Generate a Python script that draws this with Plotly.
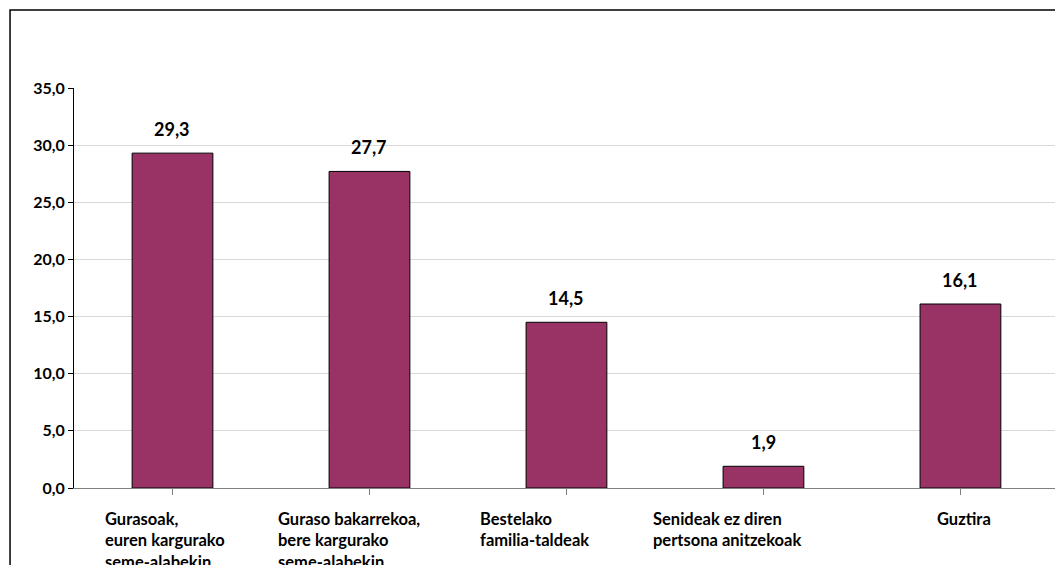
import plotly.graph_objects as go

categories = [
    "Gurasoak,<br>euren kargurako<br>seme-alabekin",
    "Guraso bakarrekoa,<br>bere kargurako<br>seme-alabekin",
    "Bestelako<br>familia-taldeak",
    "Senideak ez diren<br>pertsona anitzekoak",
    "Guztira",
]
values = [29.3, 27.7, 14.5, 1.9, 16.1]
label_shift = [-69, -93, -88, -112, -25]
ytick_vals = [0, 5, 10, 15, 20, 25, 30, 35]

FONT = "Lato"
x_idx = list(range(len(values)))

fig = go.Figure()
fig.add_trace(go.Bar(
    x=x_idx, y=values, width=0.41,
    marker=dict(color="#993366", line=dict(color="#000000", width=1)),
    hoverinfo="skip",
))

annotations = []
for i, v in enumerate(values):
    annotations.append(dict(
        x=i, y=v, xref="x", yref="y",
        text=f"{v:.1f}".replace(".", ","), showarrow=False,
        xanchor="center", yanchor="bottom", yshift=11,
        font=dict(family=FONT, size=18, color="#000000", weight="bold"),
    ))
for i, (c, s) in enumerate(zip(categories, label_shift)):
    annotations.append(dict(
        x=i, y=0, xref="x", yref="y", text=c, showarrow=False,
        xanchor="left", yanchor="top", align="left", xshift=s, yshift=-19,
        font=dict(family=FONT, size=16.5, color="#000000", weight="bold"),
    ))

fig.update_layout(
    width=1055, height=565,
    margin=dict(l=74, r=0, t=88, b=77),
    paper_bgcolor="white", plot_bgcolor="white",
    separators=",.",
    showlegend=False,
    annotations=annotations,
    font=dict(family=FONT, size=14, color="#000000"),
    shapes=[dict(type="rect", xref="paper", yref="paper",
                 x0=-0.0652, x1=1.2, y0=-0.6, y1=1.195,
                 line=dict(color="#000000", width=1.5), layer="below")],
    xaxis=dict(range=[-0.5, 4.48], tickvals=x_idx, ticktext=[""] * 5,
               ticks="outside", tickson="boundaries", ticklen=6,
               tickcolor="#808080", showline=True, linecolor="#808080",
               linewidth=1, showgrid=False, zeroline=False, fixedrange=True),
    yaxis=dict(range=[0, 35], tickvals=ytick_vals, tickformat=".1f",
               ticks="outside", ticklen=5, tickcolor="#000000",
               showline=True, linecolor="#000000", linewidth=1,
               gridcolor="#d9d9d9", gridwidth=1, zeroline=False,
               tickfont=dict(family=FONT, size=16, color="#000000", weight="bold"),
               fixedrange=True),
)
fig.write_html(
    "out.html",
    config={"displayModeBar": False},
    post_script="document.body.style.margin='0';document.body.style.overflow='hidden';",
)
